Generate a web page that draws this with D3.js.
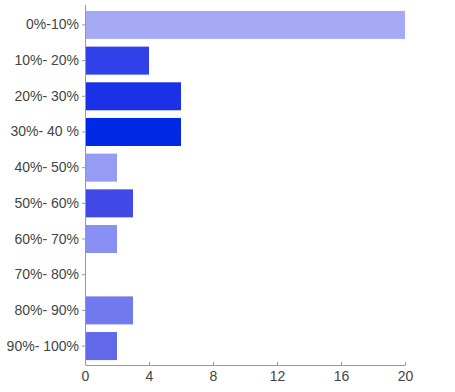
<!DOCTYPE html>
<html>
<head>
<meta charset="utf-8">
<script src="https://cdn.jsdelivr.net/npm/d3@7"></script>
<style>
  body { margin: 0; background: #fff; }
  .axis text { font-family: "Liberation Sans", Arial, sans-serif; font-size: 14px; fill: #444; }
  .axis path, .axis line { stroke: #999; }
</style>
</head>
<body>
<div id="container"></div>
<script>
/* Tranches et effectifs */
categories = ["0%-10%", "10%- 20%", "20%- 30%", "30%- 40 %", "40%- 50%", "50%- 60%", "60%- 70%", "70%- 80%", "80%- 90%", "90%- 100%"];
counts = [20, 4, 6, 6, 2, 3, 2, 0, 3, 2];
barColors = ["#a6aaf5", "#3041ea", "#1a31e8", "#0029e6", "#969cf3", "#4049e6", "#8990f3", "#7b82f0", "#7179ee", "#6169ea"];
xTicks = [0, 4, 8, 12, 16, 20];

width = 455,
height = 392;

const svg = d3.select("#container").append("svg")
	.attr("width", width)
	.attr("height", height);

const x = d3.scaleLinear()
	.domain([0, 20])
	.range([85, 405]);

const y = d3.scaleBand()
	.domain(categories)
	.range([7, 364])
	.paddingInner(0.215)
	.paddingOuter(0.11);

/* Barres */
svg.selectAll("rect.bar")
	.data(categories)
	.enter().append("rect")
		.attr("class", "bar")
		.attr("x", x(0))
		.attr("y", function(d){return y(d)})
		.attr("width", function(d, i){return x(counts[i]) - x(0)})
		.attr("height", y.bandwidth())
		.attr("fill", function(d, i){return barColors[i]});

/* Axe horizontal */
svg.append("g")
	.attr("class", "axis")
	.attr("transform", "translate(0,365)")
	.call(d3.axisBottom(x).tickValues(xTicks).tickSizeInner(-3).tickSizeOuter(0).tickPadding(6));

/* Axe vertical */
const yAxis = svg.append("g")
	.attr("class", "axis")
	.attr("transform", "translate(85,0)")
	.call(d3.axisLeft(y).tickSizeInner(3).tickSizeOuter(0).tickPadding(3));
yAxis.select(".domain").attr("d", "M0.5,5V365");
</script>
</body>
</html>
